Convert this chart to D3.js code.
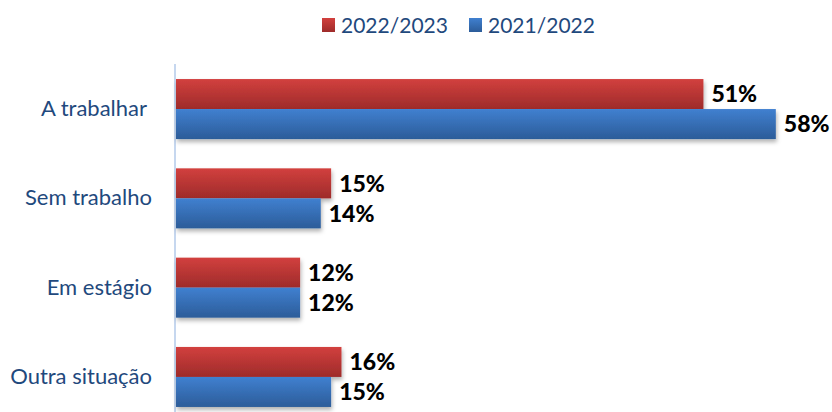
<!DOCTYPE html>
<html>
<head>
<meta charset="utf-8">
<script src="https://cdn.jsdelivr.net/npm/d3@7"></script>
<style>
  html, body { margin: 0; padding: 0; background: #ffffff; }
  svg { display: block; }
  text { font-family: Lato, "Open Sans", sans-serif; }
</style>
</head>
<body>
<svg id="chart" width="832" height="412"></svg>
<script>
// Situation of graduates, by academic year (%)
const categories = ["A trabalhar", "Sem trabalho", "Em estágio", "Outra situação"];
const seriesNames = ["2022/2023", "2021/2022"];
const values2022_2023 = [51, 15, 12, 16];
const values2021_2022 = [58, 14, 12, 15];
const seriesValues = [values2022_2023, values2021_2022];

const W = 832, H = 412;
const svg = d3.select("#chart");

// gradients and shadow
const defs = svg.append("defs");
const fills = [
  { id: "gRed", top: "#d2403e", bottom: "#9e2b2a" },
  { id: "gBlue", top: "#4080d0", bottom: "#2c5c99" }
];
fills.forEach(f => {
  const g = defs.append("linearGradient").attr("id", f.id)
    .attr("x1", 0).attr("y1", 0).attr("x2", 0).attr("y2", 1);
  g.append("stop").attr("offset", "0%").attr("stop-color", f.top);
  g.append("stop").attr("offset", "100%").attr("stop-color", f.bottom);
});
const shadow = defs.append("filter").attr("id", "shadow")
  .attr("x", "-5%").attr("y", "-20%").attr("width", "115%").attr("height", "160%");
shadow.append("feDropShadow").attr("dx", 1).attr("dy", 3)
  .attr("stdDeviation", 2).attr("flood-color", "#000").attr("flood-opacity", 0.3);

const x = d3.scaleLinear().domain([0, 60]).range([176, 796.5]);
const y = d3.scaleBand().domain(categories)
  .range([64.4, 421.6]).paddingInner(0.328).paddingOuter(0.164);
const ySub = d3.scaleBand().domain(seriesNames).range([0, y.bandwidth()]);

// vertical axis line
svg.append("line")
  .attr("x1", x(0) - 1).attr("x2", x(0) - 1)
  .attr("y1", 64).attr("y2", H)
  .attr("stroke", "#c6d7ef").attr("stroke-width", 2);

// category labels
const yAxis = d3.axisLeft(y).tickSize(0).tickPadding(0);
const gAxis = svg.append("g").attr("transform", `translate(152,0)`).call(yAxis);
gAxis.select(".domain").remove();
gAxis.selectAll("text")
  .attr("font-family", "Lato, 'Open Sans', sans-serif")
  .attr("font-size", 22)
  .attr("fill", "#1f497d")
  .attr("dx", (d, i) => i === 0 ? -5 : 0);

// bars
const rows = categories.map((c, i) => ({
  cat: c,
  bars: seriesNames.map((s, j) => ({ series: s, j, value: seriesValues[j][i] }))
}));

const groups = svg.append("g").selectAll("g").data(rows).join("g")
  .attr("transform", d => `translate(0,${y(d.cat)})`);

groups.append("g").attr("filter", "url(#shadow)")
  .selectAll("rect").data(d => d.bars).join("rect")
  .attr("x", x(0))
  .attr("y", d => ySub(d.series))
  .attr("width", d => x(d.value) - x(0))
  .attr("height", ySub.bandwidth())
  .attr("fill", d => d.j === 0 ? "url(#gRed)" : "url(#gBlue)");

groups.selectAll("text.val").data(d => d.bars).join("text")
  .attr("class", "val")
  .attr("x", d => x(d.value) + 8)
  .attr("y", d => ySub(d.series) + ySub.bandwidth() / 2)
  .attr("dy", "0.36em")
  .attr("font-size", 23)
  .attr("font-weight", 900)
  .attr("fill", "#000")
  .text(d => d.value + "%");

// legend
const legendX = [322, 469];
const legend = svg.append("g").selectAll("g").data(seriesNames).join("g")
  .attr("transform", (d, i) => `translate(${legendX[i]},0)`);
legend.append("rect")
  .attr("x", 0).attr("y", 18).attr("width", 13).attr("height", 14)
  .attr("fill", (d, i) => i === 0 ? "url(#gRed)" : "url(#gBlue)");
legend.append("text")
  .attr("x", 19).attr("y", 33)
  .attr("font-size", 21)
  .attr("fill", "#1f497d")
  .text(d => d);
</script>
</body>
</html>
